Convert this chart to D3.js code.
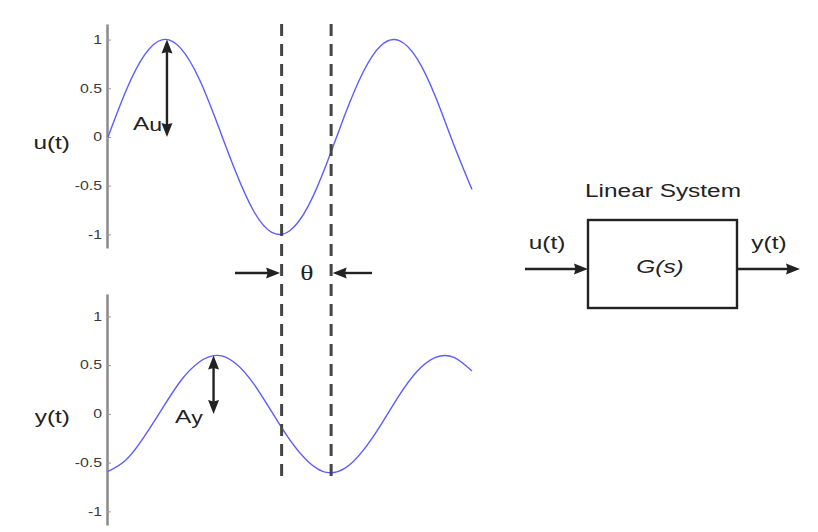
<!DOCTYPE html>
<html><head><meta charset="utf-8">
<script src="https://cdn.jsdelivr.net/npm/d3@7"></script>
<style>body{margin:0;background:#fff} svg{display:block}</style>
</head><body>
<svg id="c" width="818" height="532"></svg>
<script>
// ---- data ----
const times   = [0,0.5,1,1.5,2,2.5,3,3.5,4,4.5,5,5.5,6,6.5,7,7.5,8,8.5,9,9.5,10];
const uValues = [0,0.48,0.84,1.0,0.91,0.6,0.14,-0.35,-0.76,-0.98,-0.96,-0.71,-0.28,0.22,0.66,0.94,0.99,0.8,0.41,-0.08,-0.54];
const yValues = [-0.59,-0.47,-0.23,0.06,0.34,0.53,0.6,0.52,0.31,0.02,-0.27,-0.49,-0.6,-0.56,-0.38,-0.11,0.19,0.44,0.58,0.58,0.44];
const tickValues = [-1,-0.5,0,0.5,1];
const tickLabels = ["-1","-0.5","0","0.5","1"];
const markerTimes = [4.77, 6.13];        // u minimum, y minimum (phase shift θ)
const ampTimes  = [1.62, 2.9];           // where the amplitude arrows sit
const ampValues = [1, 0.6];              // A_u, A_y
const signalNames = ["u(t)", "y(t)"];
const ampNames = [["A","u"],["A","y"]];
const blockTitle = "Linear System";
const blockName = "G(s)";
const thetaLabel = "θ";

// ---- layout ----
const svg = d3.select("#c");
const x = d3.scaleLinear().domain([0,10]).range([108,472]);
const yTop = d3.scaleLinear().domain([-1.14,1.16]).range([248,24]);
const yBot = d3.scaleLinear().domain([-1.14,1.23]).range([525,294]);
const SX = 1.32;               // horizontal stretch of the original picture
const FONT = "'Liberation Sans', Arial, Helvetica, sans-serif";
const INK = "#222";

function text(x0, y0, str, o = {}) {
  return svg.append("text")
    .attr("transform", `translate(${x0},${y0}) scale(${SX},1)`)
    .attr("text-anchor", o.anchor || "start")
    .attr("font-family", o.family || FONT)
    .attr("font-size", o.size || 18.5)
    .attr("font-style", o.italic ? "italic" : null)
    .attr("fill", o.fill || INK)
    .text(str);
}

function arrow(x1, y1, x2, y2, headStart, headEnd, color = INK, len = 14, w = 11, sw = 2.4) {
  const dx = x2 - x1, dy = y2 - y1, L = Math.hypot(dx, dy);
  const ux = dx / L, uy = dy / L, px = -uy, py = ux;
  const sx = headStart ? x1 + ux * (len - 2) : x1, sy = headStart ? y1 + uy * (len - 2) : y1;
  const ex = headEnd ? x2 - ux * (len - 2) : x2, ey = headEnd ? y2 - uy * (len - 2) : y2;
  svg.append("line").attr("x1", sx).attr("y1", sy).attr("x2", ex).attr("y2", ey)
    .attr("stroke", color).attr("stroke-width", sw);
  const head = (tx, ty, dirx, diry) => {
    const bx = tx - dirx * len, by = ty - diry * len;
    svg.append("path")
      .attr("d", `M${tx},${ty}L${bx + px * w / 2},${by + py * w / 2}L${bx + dirx*1.5},${by + diry*1.5}L${bx - px * w / 2},${by - py * w / 2}Z`)
      .attr("fill", color);
  };
  if (headEnd) head(x2, y2, ux, uy);
  if (headStart) head(x1, y1, -ux, -uy);
}

// ---- axes ----
[yTop, yBot].forEach(ys => {
  const g = svg.append("g").attr("transform", "translate(107,0)")
    .call(d3.axisLeft(ys).tickValues(tickValues)
      .tickFormat((d, i) => tickLabels[i])
      .tickSizeInner(-4).tickSizeOuter(0).tickPadding(5));
  g.select(".domain").attr("stroke", "#8a8a8a").attr("stroke-width", 2.5);
  g.selectAll(".tick line").attr("stroke", "#999").attr("stroke-width", 1);
  g.selectAll(".tick text")
    .attr("x", null)
    .attr("transform", `translate(-5,0) scale(${SX},1)`)
    .attr("font-family", FONT).attr("font-size", 12).attr("fill", "#3a3a3a");
});

// ---- curves ----
const lineTop = d3.line().x((d, i) => x(times[i])).y(d => yTop(d)).curve(d3.curveNatural);
const lineBot = d3.line().x((d, i) => x(times[i])).y(d => yBot(d)).curve(d3.curveNatural);
svg.append("path").attr("d", lineTop(uValues)).attr("fill", "none")
  .attr("stroke", "#5c5cff").attr("stroke-width", 1.4);
svg.append("path").attr("d", lineBot(yValues)).attr("fill", "none")
  .attr("stroke", "#5c5cff").attr("stroke-width", 1.4);

// ---- phase-shift dashed lines ----
markerTimes.forEach(t => {
  svg.append("line").attr("x1", x(t)).attr("x2", x(t))
    .attr("y1", 24).attr("y2", 476)
    .attr("stroke", "#444").attr("stroke-width", 3)
    .attr("stroke-dasharray", "12,8");
});

// theta arrows
const thY = 273;
arrow(235, thY, x(markerTimes[0]) - 1.5, thY, false, true);
arrow(372, thY, x(markerTimes[1]) + 1.5, thY, false, true);
text(307, 280, thetaLabel, {anchor: "middle", family: "'Liberation Serif','DejaVu Serif',serif", size: 21});

// ---- amplitude arrows ----
arrow(x(ampTimes[0]), yTop(0), x(ampTimes[0]), yTop(ampValues[0]), true, true);
arrow(x(ampTimes[1]), yBot(0), x(ampTimes[1]), yBot(ampValues[1]), true, true);

function ampLabel(x0, y0, parts) {
  const t = text(x0, y0, parts[0]);
  t.append("tspan").attr("dy", 1).attr("font-size", 17.5).text(parts[1]);
}
ampLabel(133, 130, ampNames[0]);
ampLabel(175, 423, ampNames[1]);

// signal names
text(70, 149, signalNames[0], {anchor: "end"});
text(70, 423, signalNames[1], {anchor: "end"});

// ---- block diagram ----
svg.append("rect").attr("x", 588).attr("y", 220).attr("width", 149).attr("height", 88)
  .attr("fill", "none").attr("stroke", INK).attr("stroke-width", 2.4);
text(663, 197, blockTitle, {anchor: "middle"});
text(660, 273, blockName, {anchor: "middle", italic: true});
text(547, 248.5, signalNames[0], {anchor: "middle"});
text(769, 248.5, signalNames[1], {anchor: "middle"});
arrow(525, 269, 588, 269, false, true);
arrow(737, 269, 800, 269, false, true);
</script>
</body></html>
